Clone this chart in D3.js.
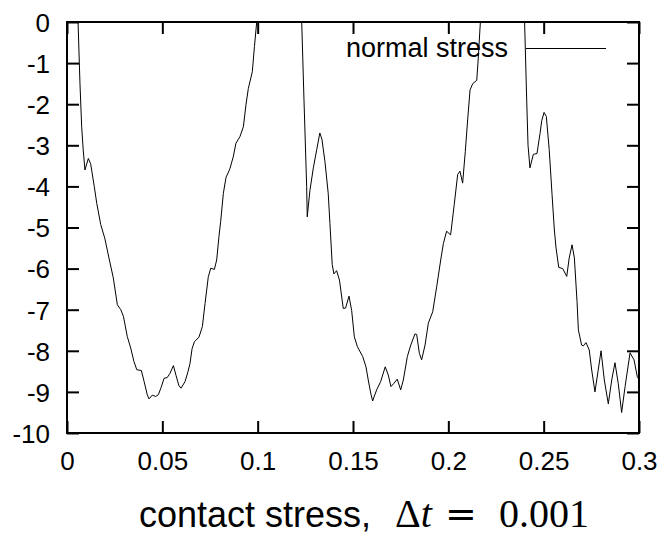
<!DOCTYPE html>
<html>
<head>
<meta charset="utf-8">
<script src="https://cdn.jsdelivr.net/npm/d3@7/dist/d3.min.js"></script>
<style>
  html, body { margin: 0; padding: 0; background: #fff; }
  svg { display: block; }
</style>
</head>
<body>
<svg id="chart" width="663" height="535"></svg>
<script>
// Contact (normal) stress history sampled over time; values above 0 leave the axis range.
const time = [
  0.000, 0.003, 0.0058, 0.0068, 0.0077, 0.0085, 0.0094, 0.0112, 0.0124, 0.0143,
  0.0156, 0.0177, 0.0198, 0.0220, 0.0243, 0.0264, 0.0282, 0.0296, 0.0316, 0.0334,
  0.0351, 0.0366, 0.0390, 0.0404, 0.0421, 0.0430, 0.0447, 0.0465, 0.0479, 0.0493,
  0.0509, 0.0526, 0.0540, 0.0558, 0.0572, 0.0587, 0.0598, 0.0619, 0.0635, 0.0645,
  0.0656, 0.0668, 0.0692, 0.0710, 0.0724, 0.0741, 0.0754, 0.0773, 0.0785, 0.0797,
  0.0806, 0.0820, 0.0834, 0.0850, 0.0855, 0.0872, 0.0886, 0.0907, 0.0925, 0.0939,
  0.0951, 0.0972, 0.0983, 0.0995, 0.102, 0.110, 0.118, 0.121,
  0.1231, 0.1243, 0.1257, 0.1260, 0.1274, 0.1292, 0.1310, 0.1326, 0.1337, 0.1353,
  0.1370, 0.1379, 0.1391, 0.1400, 0.1414, 0.1429, 0.1449, 0.1461, 0.1479, 0.1493,
  0.1507, 0.1523, 0.1551, 0.1568, 0.1580, 0.1593, 0.1603, 0.1624, 0.1645, 0.1669,
  0.1685, 0.1699, 0.1715, 0.1732, 0.1750, 0.1764, 0.1785, 0.1803, 0.1825, 0.1834,
  0.1848, 0.1860, 0.1878, 0.1895, 0.1918, 0.1939, 0.1960, 0.1974, 0.1991, 0.2012,
  0.2031, 0.2049, 0.2061, 0.2075, 0.2089, 0.2102, 0.2114, 0.2128, 0.2149, 0.2157,
  0.2168, 0.219, 0.230, 0.238,
  0.2400, 0.2411, 0.2418, 0.2428, 0.2446, 0.2465, 0.2481, 0.2490, 0.2502, 0.2514,
  0.2529, 0.2544, 0.2556, 0.2565, 0.2579, 0.2600, 0.2621, 0.2634, 0.2649, 0.2661,
  0.2675, 0.2682, 0.2699, 0.2708, 0.2722, 0.2739, 0.2752, 0.2769, 0.2786, 0.2801,
  0.2818, 0.2839, 0.2857, 0.2874, 0.2891, 0.2909, 0.2927, 0.2953, 0.2974, 0.2991,
  0.3000
];
const normalStress = [
  2.5, 1.4, 0, -1.49, -2.55, -3.11, -3.6, -3.32, -3.45, -4.0,
  -4.41, -4.93, -5.26, -5.74, -6.23, -6.88, -7.0, -7.16, -7.65, -7.93,
  -8.26, -8.46, -8.48, -8.74, -9.07, -9.17, -9.08, -9.11, -9.07, -8.9,
  -8.67, -8.65, -8.55, -8.36, -8.6, -8.85, -8.91, -8.75, -8.5, -8.31,
  -7.95, -7.78, -7.67, -7.41, -6.85, -6.2, -5.99, -6.02, -5.79, -5.22,
  -4.85, -4.17, -3.78, -3.62, -3.56, -3.28, -2.95, -2.79, -2.55, -2.0,
  -1.62, -1.21, -0.6, 0, 1.5, 3.0, 2.5, 1.8,
  0, -1.9, -4.0, -4.74, -4.1, -3.55, -3.1, -2.7, -2.85, -3.4,
  -4.17, -4.9, -5.9, -6.13, -6.05, -6.28, -6.97, -6.96, -6.67, -7.02,
  -7.66, -7.9, -8.14, -8.39, -8.71, -9.03, -9.22, -8.95, -8.75, -8.39,
  -8.59, -8.87, -8.79, -8.69, -8.95, -8.71, -8.14, -7.86, -7.59, -7.6,
  -8.06, -8.22, -7.86, -7.33, -7.05, -6.44, -5.79, -5.39, -5.09, -5.18,
  -4.44, -3.71, -3.63, -3.92, -3.15, -2.34, -1.65, -1.5, -1.42, -0.88,
  0, 1.8, 3.0, 1.8,
  0, -1.9, -3.0, -3.55, -3.22, -3.2, -2.71, -2.4, -2.2, -2.3,
  -3.1, -4.2, -5.06, -5.5, -5.97, -6.0, -6.19, -5.74, -5.42, -5.74,
  -6.8, -7.49, -7.86, -7.88, -7.8, -7.98, -8.47, -9.0, -8.47, -8.0,
  -8.71, -9.29, -8.71, -8.29, -8.79, -9.5, -8.87, -8.05, -8.22, -8.63,
  -8.7
];

const xTicks = [0, 0.05, 0.1, 0.15, 0.2, 0.25, 0.3];
const xTickLabels = ["0", "0.05", "0.1", "0.15", "0.2", "0.25", "0.3"];
const yTicks = [0, -1, -2, -3, -4, -5, -6, -7, -8, -9, -10];
const yTickLabels = ["0", "-1", "-2", "-3", "-4", "-5", "-6", "-7", "-8", "-9", "-10"];
const seriesName = "normal stress";

const svg = d3.select("#chart");
const plot = { left: 67, right: 639, top: 22, bottom: 433 };
const tickLen = 12;
const sans = "'Liberation Sans', Arial, Helvetica, sans-serif";
const serif = "'Liberation Serif', 'Times New Roman', serif";

const x = d3.scaleLinear().domain([0, 0.3]).range([plot.left, plot.right]);
const y = d3.scaleLinear().domain([-10, 0]).range([plot.bottom, plot.top]);

svg.append("defs").append("clipPath").attr("id", "plot-clip")
  .append("rect")
  .attr("x", plot.left).attr("y", plot.top)
  .attr("width", plot.right - plot.left).attr("height", plot.bottom - plot.top);

// Data curve
const points = time.map((t, i) => [t, normalStress[i]]);
const line = d3.line().x(d => x(d[0])).y(d => y(d[1]));
svg.append("path")
  .datum(points)
  .attr("clip-path", "url(#plot-clip)")
  .attr("fill", "none")
  .attr("stroke", "#000")
  .attr("stroke-width", 1)
  .attr("stroke-linejoin", "round")
  .attr("d", line);

// Axes: ticks point inward on all four sides
const axisStyle = g => {
  g.select(".domain").remove();
  g.selectAll(".tick line").attr("stroke", "#000").attr("stroke-width", 2);
};
svg.append("g").attr("transform", `translate(0,${plot.bottom})`)
  .call(d3.axisBottom(x).tickValues(xTicks).tickSizeInner(-tickLen).tickSizeOuter(0)
    .tickFormat((d, i) => xTickLabels[i]).tickPadding(22))
  .call(axisStyle)
  .call(g => g.selectAll(".tick text").attr("font-family", sans).attr("font-size", 26)
    .attr("fill", "#000").attr("dy", null).attr("y", 37));
svg.append("g").attr("transform", `translate(0,${plot.top})`)
  .call(d3.axisTop(x).tickValues(xTicks).tickSizeInner(-tickLen).tickSizeOuter(0).tickFormat(""))
  .call(axisStyle);
svg.append("g").attr("transform", `translate(${plot.left},0)`)
  .call(d3.axisLeft(y).tickValues(yTicks).tickSizeInner(-tickLen).tickSizeOuter(0)
    .tickFormat((d, i) => yTickLabels[i]))
  .call(axisStyle)
  .call(g => g.selectAll(".tick text").attr("font-family", sans).attr("font-size", 26)
    .attr("fill", "#000").attr("x", -17).attr("dy", "0.36em"));
svg.append("g").attr("transform", `translate(${plot.right},0)`)
  .call(d3.axisRight(y).tickValues(yTicks).tickSizeInner(-tickLen).tickSizeOuter(0).tickFormat(""))
  .call(axisStyle);

// Frame
svg.append("rect")
  .attr("x", plot.left).attr("y", plot.top)
  .attr("width", plot.right - plot.left).attr("height", plot.bottom - plot.top)
  .attr("fill", "none").attr("stroke", "#000").attr("stroke-width", 2);

// Legend
svg.append("text")
  .attr("x", 508).attr("y", 57)
  .attr("text-anchor", "end")
  .attr("font-family", sans).attr("font-size", 27)
  .text(seriesName);
svg.append("line")
  .attr("x1", 526).attr("x2", 606).attr("y1", 48.5).attr("y2", 48.5)
  .attr("stroke", "#000").attr("stroke-width", 1);

// Caption: sans text followed by a math expression
const cap = svg.append("text").attr("y", 527).attr("fill", "#000");
cap.append("tspan").attr("x", 139).attr("font-family", sans).attr("font-size", 36)
  .text("contact stress,");
cap.append("tspan").attr("x", 395).attr("font-family", serif).attr("font-size", 40).text("Δ");
cap.append("tspan").attr("font-family", serif).attr("font-size", 40).attr("font-style", "italic").text("t");
cap.append("tspan").attr("x", 445).attr("font-family", "'DejaVu Serif', serif").attr("font-size", 38).text("=");
cap.append("tspan").attr("x", 499).attr("font-family", serif).attr("font-size", 40).text("0.001");
</script>
</body>
</html>
